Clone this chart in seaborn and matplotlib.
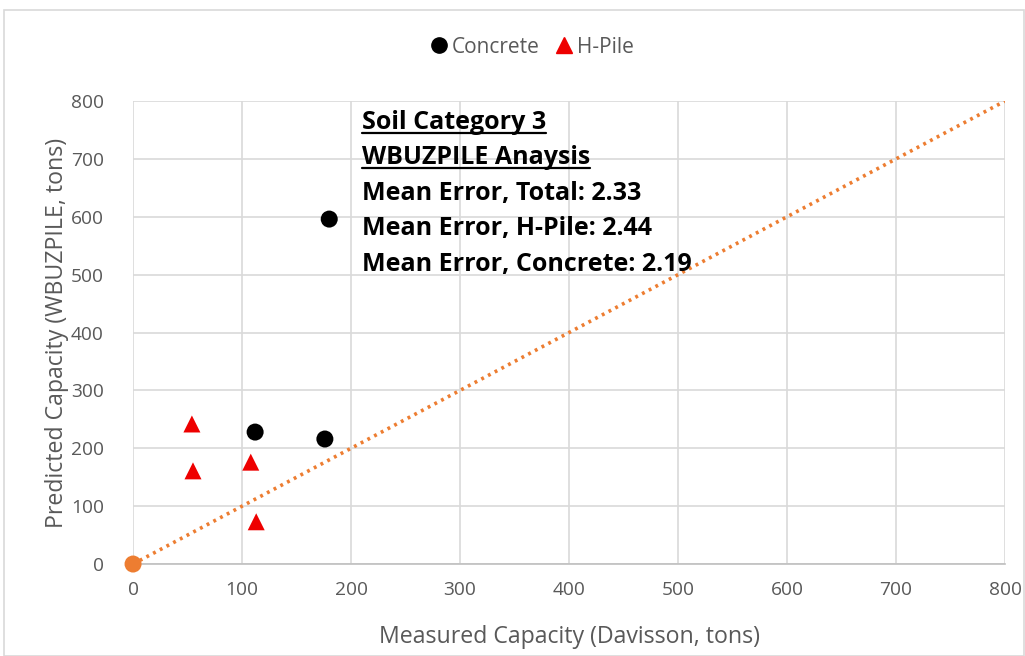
import matplotlib
matplotlib.use("Agg")
import matplotlib.pyplot as plt
import seaborn as sns
import pandas as pd
from matplotlib.lines import Line2D
from matplotlib.patches import Rectangle

# Data
concrete_measured = [112, 176, 180]
concrete_predicted = [228, 216, 596]
hpile_measured = [54, 55, 108, 113]
hpile_predicted = [242, 161, 176, 73]
origin_x = [0]
origin_y = [0]
line_x = [0, 800]
line_y = [0, 800]
ticks = [0, 100, 200, 300, 400, 500, 600, 700, 800]
annotation_lines = ["Soil Category 3", "WBUZPILE Anaysis",
                    "Mean Error, Total: 2.33", "Mean Error, H-Pile: 2.44",
                    "Mean Error, Concrete: 2.19"]

sns.set_theme(style="white")
plt.rcParams['font.family'] = ['Open Sans', 'DejaVu Sans']

df = pd.DataFrame({
    "Measured": concrete_measured + hpile_measured,
    "Predicted": concrete_predicted + hpile_predicted,
    "Type": ["Concrete"] * len(concrete_measured) + ["H-Pile"] * len(hpile_measured),
})

fig = plt.figure(figsize=(10.25, 6.56), dpi=100)
ax = fig.add_axes([0.1298, 0.1402, 0.9805 - 0.1298, 0.846 - 0.1402])

# outer border
fig.patches.append(Rectangle((4 / 1025, 0), 1 - 4 / 1025 - 0.001, 1 - 10 / 656,
                             transform=fig.transFigure, fill=False,
                             edgecolor="#d9d9d9", linewidth=1.2))

sns.lineplot(x=line_x, y=line_y, ax=ax, color="#ED7D31", linewidth=2.6,
             linestyle=(0, (0.8, 1.3)), zorder=2)
sns.scatterplot(x=origin_x, y=origin_y, ax=ax, color="#ED7D31", s=150,
                edgecolor="none", zorder=4, clip_on=False)
sns.scatterplot(data=df, x="Measured", y="Predicted", hue="Type", style="Type",
                palette={"Concrete": "black", "H-Pile": "#EE0000"},
                markers={"Concrete": "o", "H-Pile": "^"}, s=150,
                edgecolor="none", ax=ax, zorder=5, legend=False)

ax.set_xlim(0, 800)
ax.set_ylim(0, 800)
ax.set_xticks(ticks)
ax.set_yticks(ticks)
ax.set_xticklabels([str(t) for t in ticks])
ax.set_yticklabels([str(t) for t in ticks])
ax.grid(True, color="#d9d9d9", linewidth=1.2)
ax.set_axisbelow(True)
for s in ["top", "right", "left"]:
    ax.spines[s].set_visible(False)
ax.spines["bottom"].set_color("#bfbfbf")
ax.spines["bottom"].set_linewidth(1.2)
ax.tick_params(axis="x", colors="#595959", labelsize=13.8, length=0, pad=12)
ax.tick_params(axis="y", colors="#595959", labelsize=13.8, length=0, pad=21)
ax.set_xlabel("Measured Capacity (Davisson, tons)", fontsize=16.7, color="#595959", labelpad=19)
ax.set_ylabel("Predicted Capacity (WBUZPILE, tons)", fontsize=16.7, color="#595959", labelpad=1)

# annotation
for i, txt in enumerate(annotation_lines):
    ax.text(0.2625, 0.9545 - i * 0.0767, txt, transform=ax.transAxes,
            fontsize=18, fontweight="bold", color="black", va="center", ha="left")
# underline first two lines
fig.canvas.draw()
renderer = fig.canvas.get_renderer()
for t in ax.texts[:2]:
    bb = t.get_window_extent(renderer=renderer)
    yline = bb.y0 + 2
    fig.add_artist(Line2D([bb.x0 / fig.bbox.width, bb.x1 / fig.bbox.width],
                          [yline / fig.bbox.height, yline / fig.bbox.height],
                          transform=fig.transFigure, color="black", linewidth=1.6))

handles = [Line2D([], [], marker="o", color="black", linestyle="none", markersize=11),
           Line2D([], [], marker="^", color="#EE0000", linestyle="none", markersize=11)]
fig.legend(handles, ["Concrete", "H-Pile"], loc="center", bbox_to_anchor=(0.517, 0.928),
           ncol=2, frameon=False, fontsize=15, handletextpad=0.0, columnspacing=0.6,
           labelcolor="#595959", handlelength=1.2)

fig.savefig("out.png", dpi=100)
